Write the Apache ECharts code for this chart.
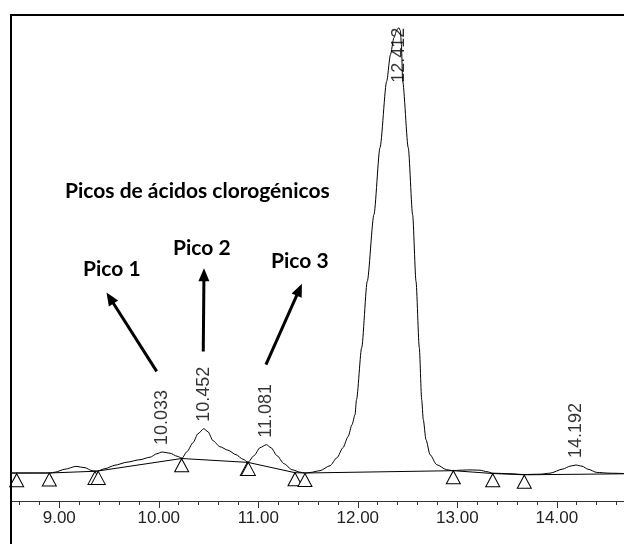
<!DOCTYPE html>
<html>
<head>
<meta charset="utf-8">
<script src="https://cdn.jsdelivr.net/npm/echarts@6/dist/echarts.min.js"></script>
<style>
  html, body { margin: 0; padding: 0; background: #fff; }
  #chart { width: 624px; height: 544px; }
</style>
</head>
<body>
<div id="chart"></div>
<script>
// Chromatogram trace: retention time (min) and detector response (arbitrary units)
const retentionTimes = [8.515, 8.907, 8.957, 9.057, 9.168, 9.258, 9.329, 9.379, 9.459, 9.560,
  9.680, 9.811, 9.912, 9.982, 10.033, 10.113, 10.183, 10.233, 10.283, 10.344,
  10.394, 10.452, 10.494, 10.545, 10.615, 10.695, 10.776, 10.846, 10.897, 10.957,
  11.017, 11.081, 11.128, 11.188, 11.258, 11.339, 11.419, 11.469, 11.520, 11.620,
  11.721, 11.791, 11.851, 11.902, 11.942, 11.972, 11.987, 12.039, 12.095, 12.162,
  12.223, 12.290, 12.328, 12.363, 12.393, 12.412, 12.428, 12.438, 12.451, 12.507,
  12.551, 12.585, 12.618, 12.642, 12.658, 12.685, 12.726, 12.793, 12.893, 12.957,
  13.027, 13.127, 13.228, 13.298, 13.358, 13.529, 13.670, 13.831, 13.931, 14.062,
  14.132, 14.192, 14.253, 14.313, 14.401, 14.534, 14.675];
const response = [0, 0, 0.8, 3.8, 6.6, 5.3, 2.3, 1.8, 4.3, 7.8,
  10.8, 13.3, 15.8, 19.3, 21, 19.8, 16.8, 14.8, 21.3, 30.3,
  39.3, 44.3, 41.3, 32.3, 26.3, 22.8, 18.3, 13.8, 10.8, 17.3,
  25.3, 28.3, 25.3, 17.3, 9.3, 3.3, 0.8, 0, 0.5, 2.3,
  7.3, 15.3, 25.3, 36.3, 48.3, 58.3, 73.3, 125.3, 191.6, 258.3,
  325.3, 391.6, 418.3, 435.3, 443.3, 445.3, 442.3, 428.3, 391.6, 325.3,
  258.3, 191.6, 125.3, 73.3, 53.3, 33.3, 18.3, 8.3, 3.3, 2.3,
  2.8, 3.1, 2.8, 1.3, -0.2, -0.7, -1.5, -1.2, -0.2, 4,
  6.8, 8, 6.8, 3.8, 0.6, -0.2, -0.5];

// Integration baseline drawn under the peaks
const baselineTimes = [8.515, 8.900, 9.375, 10.230, 10.897, 11.369, 11.469, 12.960, 13.356, 13.673, 14.675];
const baselineLevels = [0, 0, 1.8, 14.5, 10.6, 0.3, 0, 2.3, -0.5, -1.8, -0.8];

// Peak start/end markers
const markerTimes = [8.572, 8.900, 9.359, 9.392, 10.230, 10.890, 10.900, 11.369, 11.469, 12.960, 13.356, 13.673];
const markerLevels = [-0.7, 0, 1.6, 1.6, 14.3, 10.6, 10.6, 0.3, -0.5, 2.3, -0.7, -2.2];

// Apex of each labelled peak
const peakTimes = [10.033, 10.452, 11.081, 12.412, 14.192];
const peakHeights = [21, 44.3, 28.3, 445.3, 8];

// Axis ticks
const majorTicks = [9, 10, 11, 12, 13, 14];
const minorTicks = [8.6, 8.8, 9.0, 9.2, 9.4, 9.6, 9.8, 10.0, 10.2, 10.4, 10.6, 10.8, 11.0, 11.2, 11.4,
  11.6, 11.8, 12.0, 12.2, 12.4, 12.6, 12.8, 13.0, 13.2, 13.4, 13.6, 13.8, 14.0, 14.2, 14.4, 14.6];

// Annotation texts and arrows (arrow: [from time, from level, to time, to level])
const headline = 'Picos de ácidos clorogénicos';
const peakNames = ['Pico 1', 'Pico 2', 'Pico 3'];
const arrows = [
  [9.979, 101.6, 9.510, 175],
  [10.447, 121.6, 10.454, 198.3],
  [11.077, 108.3, 11.412, 183.3]
];

const zip = (xs, ys) => xs.map((x, i) => [x, ys[i]]);

const chart = echarts.init(document.getElementById('chart'), null, { renderer: 'canvas' });

const axisFont = { fontFamily: '"Liberation Sans", Arial, sans-serif', fontSize: 17, color: '#222' };
const notesFont = 'bold 21px Lato, "Open Sans", sans-serif';

const peakLabelItems = peakTimes.map((t, i) => {
  const item = { value: [t, peakHeights[i]] };
  if (i === 3) {
    // tallest peak: label hangs down from the apex
    item.label = { position: 'bottom', distance: 0, align: 'right' };
  }
  return item;
});

chart.setOption({
  animation: false,
  backgroundColor: '#fff',
  grid: { left: 11, right: 0, top: 15, bottom: 43, containLabel: false },
  xAxis: [
    {
      type: 'value', min: 8.515, max: 14.675, position: 'bottom',
      axisLine: { show: true, onZero: false, lineStyle: { color: '#333', width: 1 } },
      axisTick: { show: true, customValues: minorTicks, length: 4, lineStyle: { color: '#333' } },
      axisLabel: { show: false },
      splitLine: { show: false }
    },
    {
      type: 'value', min: 8.515, max: 14.675, position: 'bottom',
      axisLine: { show: false, onZero: false },
      axisTick: { show: true, customValues: majorTicks, length: 7, lineStyle: { color: '#333' } },
      axisLabel: Object.assign({ show: true, customValues: majorTicks, margin: 9,
        formatter: v => v.toFixed(2) }, axisFont),
      splitLine: { show: false }
    }
  ],
  yAxis: { type: 'value', min: -28, max: 458, show: false },
  series: [
    {
      name: 'baseline', type: 'line', xAxisIndex: 0,
      data: zip(baselineTimes, baselineLevels),
      showSymbol: false, lineStyle: { color: '#000', width: 1 }, z: 2
    },
    {
      name: 'signal', type: 'line', xAxisIndex: 0,
      data: zip(retentionTimes, response),
      showSymbol: false, smooth: 0.25, smoothMonotone: 'x',
      lineStyle: { color: '#000', width: 1 }, z: 3
    },
    {
      name: 'markers', type: 'scatter', xAxisIndex: 0,
      data: zip(markerTimes, markerLevels),
      symbol: 'triangle', symbolSize: [14, 13], symbolOffset: [0, '50%'],
      itemStyle: { color: '#fff', borderColor: '#000', borderWidth: 1, opacity: 1 }, z: 4
    },
    {
      name: 'peaks', type: 'scatter', xAxisIndex: 0,
      data: peakLabelItems, symbolSize: 0,
      label: {
        show: true, position: 'top', distance: 7, rotate: 90,
        align: 'left', verticalAlign: 'middle',
        formatter: p => p.value[0].toFixed(3),
        fontFamily: '"Liberation Sans", Arial, sans-serif', fontSize: 18, color: '#000'
      },
      markLine: {
        silent: true, animation: false,
        symbol: ['none', 'triangle'], symbolSize: [11, 13],
        label: { show: false },
        lineStyle: { color: '#000', width: 3, type: 'solid' },
        data: arrows.map(a => [{ coord: [a[0], a[1]] }, { coord: [a[2], a[3]] }])
      },
      z: 5
    }
  ],
  graphic: [
    { type: 'rect', shape: { x: 11, y: 15, width: 1000, height: 1000 },
      style: { fill: 'none', stroke: '#000', lineWidth: 2 }, z: 100, silent: true },
    { type: 'text', x: 65, y: 191, style: { text: headline, font: notesFont, fill: '#000', verticalAlign: 'middle' } },
    { type: 'text', x: 83, y: 269, style: { text: peakNames[0], font: notesFont, fill: '#000', verticalAlign: 'middle' } },
    { type: 'text', x: 173, y: 248, style: { text: peakNames[1], font: notesFont, fill: '#000', verticalAlign: 'middle' } },
    { type: 'text', x: 271, y: 261, style: { text: peakNames[2], font: notesFont, fill: '#000', verticalAlign: 'middle' } }
  ]
});
</script>
</body>
</html>
